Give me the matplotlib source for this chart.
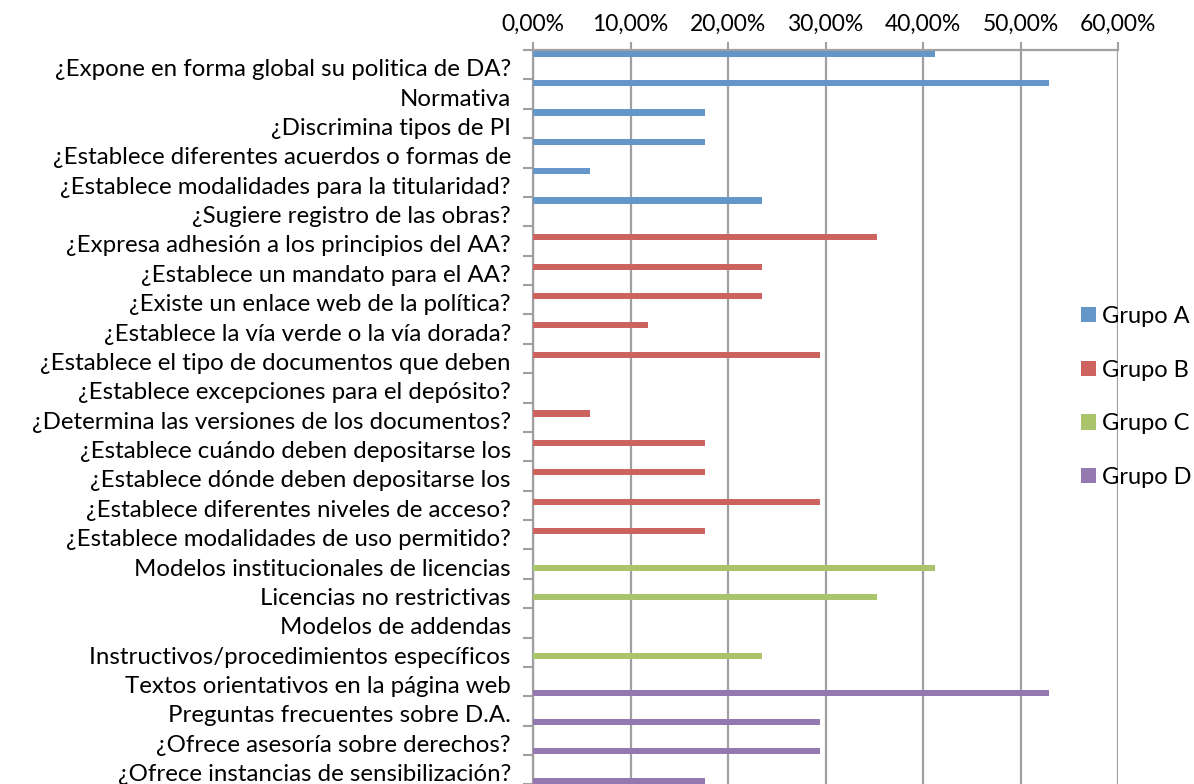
import matplotlib

matplotlib.use('Agg')
import matplotlib.pyplot as plt
import matplotlib.transforms as mtransforms
from matplotlib.patches import Patch
from matplotlib.ticker import FuncFormatter, FixedLocator

plt.rcParams['font.family'] = ['Lato', 'DejaVu Sans']

categories = [
    "¿Expone en forma global su politica de DA?",
    "Normativa",
    "¿Discrimina tipos de PI",
    "¿Establece diferentes acuerdos o formas de",
    "¿Establece modalidades para la titularidad?",
    "¿Sugiere registro de las obras?",
    "¿Expresa adhesión a los principios del AA?",
    "¿Establece un mandato para el AA?",
    "¿Existe un enlace web de la política?",
    "¿Establece la vía verde o la vía dorada?",
    "¿Establece el tipo de documentos que deben",
    "¿Establece excepciones para el depósito?",
    "¿Determina las versiones de los documentos?",
    "¿Establece cuándo deben depositarse los",
    "¿Establece dónde deben depositarse los",
    "¿Establece diferentes niveles de acceso?",
    "¿Establece modalidades de uso permitido?",
    "Modelos institucionales de licencias",
    "Licencias no restrictivas",
    "Modelos de addendas",
    "Instructivos/procedimientos específicos",
    "Textos orientativos en la página web",
    "Preguntas frecuentes sobre D.A.",
    "¿Ofrece asesoría sobre derechos?",
    "¿Ofrece instancias de sensibilización?",
]

# percentages, one group per series (0 where the question belongs to another group)
grupo_a = [41.18, 52.94, 17.65, 17.65, 5.88, 23.53] + [0] * 19
grupo_b = [0] * 6 + [35.29, 23.53, 23.53, 11.76, 29.41, 0, 5.88, 17.65, 17.65, 29.41, 17.65] + [0] * 8
grupo_c = [0] * 17 + [41.18, 35.29, 0, 23.53] + [0] * 4
grupo_d = [0] * 21 + [52.94, 29.41, 29.41, 17.65]

series_names = ["Grupo A", "Grupo B", "Grupo C", "Grupo D"]
colors = ["#6496C9", "#CD635E", "#A9C46A", "#9379B0"]
xticks = [0, 10, 20, 30, 40, 50, 60]

W, H = 1194, 784
fig = plt.figure(figsize=(W / 100, H / 100), dpi=100)
top_px, bottom_px, left_px, right_px = 50, 784.4, 533, 1118
ax = fig.add_axes([left_px / W, 1 - bottom_px / H, (right_px - left_px) / W, (bottom_px - top_px) / H])

n = len(categories)
slot = 0.25
for k, vals in enumerate([grupo_a, grupo_b, grupo_c, grupo_d]):
    ys = [i - 0.5 + slot * k + slot / 2 for i in range(n)]
    ax.barh(ys, vals, height=0.21, color=colors[k], linewidth=0, zorder=3)

grid_c = "#A0A0A0"
ax.set_xlim(0, 60)
ax.set_ylim(n - 0.5, -0.5)
ax.xaxis.set_major_locator(FixedLocator(xticks))
ax.xaxis.set_major_formatter(FuncFormatter(lambda v, p: f"{v:.2f}%".replace(".", ",")))
ax.xaxis.tick_top()
ax.grid(axis="x", color=grid_c, linewidth=1.6, zorder=1)
ax.tick_params(axis="x", which="major", direction="out", length=6, width=1.5, color=grid_c,
               labelsize=16.5, pad=5)

ax.set_yticks(range(n))
ax.set_yticklabels(categories, fontsize=17.3)
ax.set_yticks([i - 0.5 for i in range(n + 1)], minor=True)
ax.tick_params(axis="y", which="major", length=0, pad=16)
ax.tick_params(axis="y", which="minor", direction="out", length=7, width=1.5, color=grid_c)
offset = mtransforms.ScaledTranslation(0, -3 / 100, fig.dpi_scale_trans)
for lab in ax.get_yticklabels():
    lab.set_transform(lab.get_transform() + offset)

for side in ["bottom", "right"]:
    ax.spines[side].set_visible(False)
for side in ["top", "left"]:
    ax.spines[side].set_color(grid_c)
    ax.spines[side].set_linewidth(1.6)

handles = [Patch(facecolor=c, edgecolor="none") for c in colors]
fig.legend(handles, series_names, loc="upper left", bbox_to_anchor=(1081 / W, 1 - 306 / H),
           frameon=False, fontsize=17, handlelength=0.62, handleheight=0.62, handletextpad=0.28,
           labelspacing=1.38, borderpad=0, borderaxespad=0)

fig.savefig("out.png", dpi=100)
plt.close(fig)
